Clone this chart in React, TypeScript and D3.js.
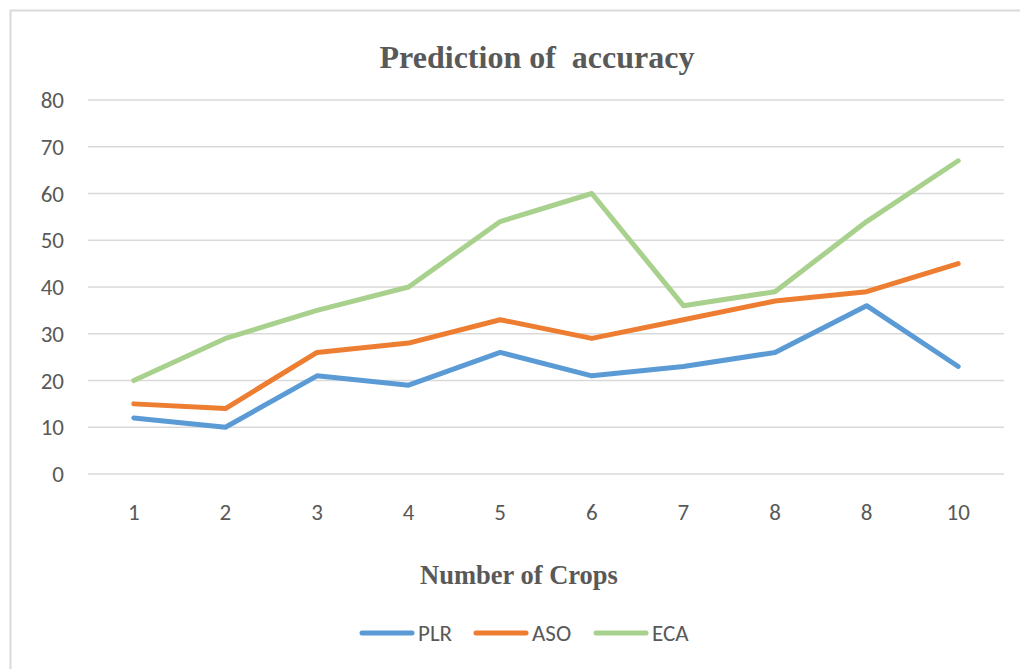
import React, { useRef, useEffect } from 'react';
import * as d3 from 'd3';

const categories = ['1', '2', '3', '4', '5', '6', '7', '8', '8', '10'];
const plr = [12, 10, 21, 19, 26, 21, 23, 26, 36, 23];
const aso = [15, 14, 26, 28, 33, 29, 33, 37, 39, 45];
const eca = [20, 29, 35, 40, 54, 60, 36, 39, 54, 67];
const yTicks = [0, 10, 20, 30, 40, 50, 60, 70, 80];

const series = [
  { name: 'PLR', values: plr, color: '#5b9bd5' },
  { name: 'ASO', values: aso, color: '#ed7d31' },
  { name: 'ECA', values: eca, color: '#a9d18e' },
];

const width = 1020;
const height = 669;

const App: React.FC = () => {
  const svgRef = useRef<SVGSVGElement>(null);

  useEffect(() => {
    if (!svgRef.current) return;
    const svg = d3.select(svgRef.current);
    svg.selectAll('*').remove();

    const margin = { top: 100, right: 16, bottom: 195, left: 88 };
    const innerWidth = width - margin.left - margin.right;
    const innerHeight = height - margin.top - margin.bottom;
    const sans = 'Calibri, Carlito, "Open Sans", "Noto Sans", sans-serif';
    const serif = '"Liberation Serif", "Times New Roman", serif';
    const textColor = '#595959';

    svg.append('rect')
      .attr('x', 0).attr('y', 0).attr('width', width).attr('height', height)
      .attr('fill', '#fff');

    // outer frame
    svg.append('rect')
      .attr('x', 10.5).attr('y', 10.5)
      .attr('width', width + 20).attr('height', height + 20)
      .attr('fill', 'none')
      .attr('stroke', '#d9d9d9')
      .attr('stroke-width', 2);

    const g = svg.append('g')
      .attr('transform', `translate(${margin.left},${margin.top})`);

    const x = d3.scaleBand<number>()
      .domain(d3.range(categories.length))
      .range([0, innerWidth])
      .padding(0);

    const y = d3.scaleLinear()
      .domain([0, 80])
      .range([innerHeight, 0]);

    // grid lines
    g.selectAll('.grid')
      .data(yTicks)
      .join('line')
      .attr('class', 'grid')
      .attr('x1', 0).attr('x2', innerWidth)
      .attr('y1', d => y(d)).attr('y2', d => y(d))
      .attr('stroke', '#d9d9d9')
      .attr('stroke-width', 1.5);

    // y labels
    g.selectAll('.ylab')
      .data(yTicks)
      .join('text')
      .attr('class', 'ylab')
      .attr('x', -24)
      .attr('y', d => y(d))
      .attr('dy', '0.35em')
      .attr('text-anchor', 'end')
      .style('font-family', sans)
      .style('font-size', '23px')
      .style('fill', textColor)
      .text(d => d);

    // x labels
    g.selectAll('.xlab')
      .data(categories)
      .join('text')
      .attr('class', 'xlab')
      .attr('x', (_, i) => (x(i) || 0) + x.bandwidth() / 2)
      .attr('y', innerHeight + 38)
      .attr('dy', '0.35em')
      .attr('text-anchor', 'middle')
      .style('font-family', sans)
      .style('font-size', '23px')
      .style('fill', textColor)
      .text(d => d);

    const line = d3.line<number>()
      .x((_, i) => (x(i) || 0) + x.bandwidth() / 2)
      .y(d => y(d));

    series.forEach(s => {
      g.append('path')
        .datum(s.values)
        .attr('d', line)
        .attr('fill', 'none')
        .attr('stroke', s.color)
        .attr('stroke-width', 5)
        .attr('stroke-linejoin', 'round')
        .attr('stroke-linecap', 'round');
    });

    // title
    svg.append('text')
      .attr('x', 537)
      .attr('y', 57)
      .attr('dy', '0.35em')
      .attr('text-anchor', 'middle')
      .style('font-family', serif)
      .style('font-weight', 'bold')
      .style('font-size', '32px')
      .style('fill', textColor)
      .text('Prediction of\u00a0 accuracy');

    // x axis title
    svg.append('text')
      .attr('x', 519)
      .attr('y', 575)
      .attr('dy', '0.35em')
      .attr('text-anchor', 'middle')
      .style('font-family', serif)
      .style('font-weight', 'bold')
      .style('font-size', '26.5px')
      .style('fill', textColor)
      .text('Number of Crops');

    // legend
    const legendX = [360, 474, 594];
    const legend = svg.append('g');
    series.forEach((s, i) => {
      const lx = legendX[i];
      legend.append('line')
        .attr('x1', lx + 2).attr('x2', lx + 52)
        .attr('y1', 633).attr('y2', 633)
        .attr('stroke', s.color)
        .attr('stroke-width', 5)
        .attr('stroke-linecap', 'round');
      legend.append('text')
        .attr('x', lx + 58)
        .attr('y', 633)
        .attr('dy', '0.35em')
        .style('font-family', sans)
        .style('font-size', '23px')
        .style('fill', textColor)
        .text(s.name);
    });
  }, []);

  return (
    <svg
      ref={svgRef}
      width={width}
      height={height}
      style={{ position: 'absolute', left: 0, top: 0, display: 'block' }}
    />
  );
};

export default App;
